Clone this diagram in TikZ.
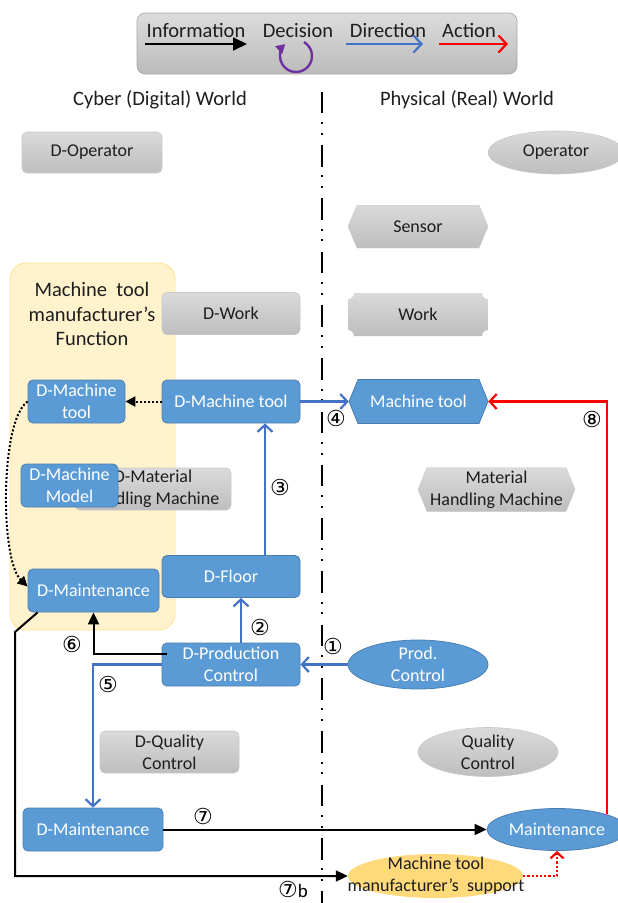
\documentclass[tikz,border=0pt]{standalone}
\usepackage{fontspec}
\setmainfont{Carlito}
\newfontfamily\circfont{DejaVu Sans}
\usetikzlibrary{arrows.meta,shapes.geometric,calc}

\definecolor{boxblue}{HTML}{5B9BD5}
\definecolor{boxline}{HTML}{4A7EB0}
\definecolor{flowblue}{HTML}{4472C4}
\definecolor{graytop}{HTML}{DADADA}
\definecolor{graybot}{HTML}{BEBEBE}
\definecolor{grayline}{HTML}{C8C8C8}
\definecolor{legtop}{HTML}{DCDCDC}
\definecolor{legbot}{HTML}{BBBBBB}
\definecolor{legline}{HTML}{A6A6A6}
\definecolor{mtffill}{HTML}{FFF2CC}
\definecolor{mtfline}{HTML}{FFE38F}
\definecolor{supfill}{HTML}{FFD97A}
\definecolor{actred}{HTML}{FF0000}
\definecolor{decpurple}{HTML}{7030A0}
\definecolor{darktext}{HTML}{1E1E1E}

\tikzset{
  boxtext/.style={font=\fontsize{18}{22}\selectfont, align=center, inner sep=0pt},
  bigtext/.style={font=\fontsize{20.5}{24.5}\selectfont, align=center, inner sep=0pt, text=darktext},
  numfont/.style={font=\circfont\fontsize{22}{22}\selectfont},
  numlabel/.style={numfont, inner sep=0pt},
  bluebox/.style={boxtext, rectangle, rounded corners=5pt, fill=boxblue, draw=boxline,
    line width=0.8pt, text=white},
  graybox/.style={boxtext, rectangle, rounded corners=5pt, top color=graytop,
    bottom color=graybot, draw=grayline, line width=0.6pt, text=darktext},
  grayoval/.style={boxtext, ellipse, top color=graytop, bottom color=graybot,
    draw=grayline, line width=0.6pt, text=darktext},
  blueoval/.style={boxtext, ellipse, fill=boxblue, draw=boxline, line width=0.8pt, text=white},
  grayhex/.style={boxtext, rectangle, text=darktext,
    path picture={\shade[top color=graytop, bottom color=graybot, draw=grayline]
      ([xshift=9pt]path picture bounding box.north west)
      -- ([xshift=-9pt]path picture bounding box.north east)
      -- (path picture bounding box.east)
      -- ([xshift=-9pt]path picture bounding box.south east)
      -- ([xshift=9pt]path picture bounding box.south west)
      -- (path picture bounding box.west) -- cycle;}},
  bluehex/.style={boxtext, rectangle, text=white,
    path picture={\filldraw[fill=boxblue, draw=boxline, line width=0.8pt]
      ([xshift=9pt]path picture bounding box.north west)
      -- ([xshift=-9pt]path picture bounding box.north east)
      -- (path picture bounding box.east)
      -- ([xshift=-9pt]path picture bounding box.south east)
      -- ([xshift=9pt]path picture bounding box.south west)
      -- (path picture bounding box.west) -- cycle;}},
  grayplaque/.style={boxtext, rectangle, text=darktext,
    path picture={\shade[top color=graytop, bottom color=graybot]
      ([xshift=6pt]path picture bounding box.north west)
      -- ([xshift=-6pt]path picture bounding box.north east)
      arc[start angle=180, end angle=270, radius=6pt]
      -- ([yshift=6pt]path picture bounding box.south east)
      arc[start angle=90, end angle=180, radius=6pt]
      -- ([xshift=6pt]path picture bounding box.south west)
      arc[start angle=0, end angle=90, radius=6pt]
      -- ([yshift=-6pt]path picture bounding box.north west)
      arc[start angle=270, end angle=360, radius=6pt] -- cycle;}},
  infoline/.style={draw=black, line width=2pt, -{Triangle[length=12pt, width=11pt]}},
  dotinfo/.style={draw=black, line width=2pt, dotted, -{Triangle[length=10pt, width=10pt]}},
  dirline/.style={draw=flowblue, line width=2.2pt, -{Straight Barb[length=7pt, width=15pt]}},
  actline/.style={draw=actred, line width=2.2pt, -{Straight Barb[length=7pt, width=15pt]}},
  dotact/.style={draw=actred, line width=2.2pt, dotted, -{Straight Barb[length=6pt, width=13pt]}},
  divider/.style={draw=black, line width=2.6pt,
    dash pattern=on 21.6pt off 8.7pt on 2pt off 8.7pt on 2pt off 10.3pt},
}

\begin{document}
\begin{tikzpicture}[x=1pt, y=1pt]
\useasboundingbox (0,0) rectangle (618,-903);

% legend
\node[rectangle, rounded corners=8pt, top color=legtop, bottom color=legbot, draw=legline,
  line width=0.6pt, minimum width=380pt, minimum height=61pt] (legend) at (327,-43.5) {};
\node[bigtext, anchor=base] (tinfo) at (196,-37) {Information};
\node[bigtext, anchor=base] (tdec) at (298,-37) {Decision};
\node[bigtext, anchor=base] (tdir) at (388,-37) {Direction};
\node[bigtext, anchor=base] (tact) at (469,-37) {Action};
\coordinate (li1) at (145,-44); \coordinate (li2) at (247,-44);
\coordinate (ld1) at (346,-44); \coordinate (ld2) at (423,-44);
\coordinate (la1) at (439,-44); \coordinate (la2) at (508,-44);
\coordinate (dc) at (296,-56);
\draw[infoline, -{Triangle[length=14pt, width=13pt]}] (li1) -- (li2);
\draw[dirline, -{Straight Barb[length=8pt, width=17pt]}] (ld1) -- (ld2);
\draw[actline, -{Straight Barb[length=8pt, width=17pt]}] (la1) -- (la2);
\draw[decpurple, line width=2.4pt, -{Triangle[length=9pt, width=10pt]}]
  ([shift={(60:16)}]dc) arc[start angle=60, end angle=-228, radius=16];

% world labels and divider
\node[bigtext] (cyber) at (160,-100) {Cyber (Digital) World};
\node[bigtext] (phys) at (467,-100) {Physical (Real) World};
\coordinate (divtop) at (322,-91.7);
\coordinate (divbot) at (322,-903);
\draw[divider] (divtop) -- (divbot);

% machine tool manufacturer's area
\node[rectangle, rounded corners=16pt, fill=mtffill, draw=mtfline, line width=0.8pt,
  minimum width=165pt, minimum height=367pt] (mtf) at (92.5,-446.5) {};
\node[bigtext] (mtflabel) at (92,-314) {Machine\ \ tool\\manufacturer’s\\Function};

% cyber side
\node[graybox, minimum width=140pt, minimum height=41pt] (dop) at (92,-152.5) {D-Operator};
\node[graybox, minimum width=138pt, minimum height=42pt] (dwork) at (231,-313.5) {D-Work};
\node[bluebox, minimum width=97pt, minimum height=43pt] (dmtl) at (76.5,-401.5) {D-Machine\\tool};
\node[bluebox, minimum width=138pt, minimum height=43pt] (dmt) at (231,-401.5) {D-Machine tool};
\node[graybox, minimum width=156pt, minimum height=42pt] (dmhm) at (153,-489) {D-Material\\Handling Machine};
\node[bluebox, minimum width=97pt, minimum height=43pt] (dmodel) at (69.5,-485.5) {D-Machine\\Model};
\node[bluebox, minimum width=138pt, minimum height=42pt] (dfloor) at (231,-576.5) {D-Floor};
\node[bluebox, minimum width=131pt, minimum height=43pt] (dmaint1) at (93.5,-590.5) {D-Maintenance};
\node[bluebox, minimum width=138pt, minimum height=43pt] (dpc) at (231,-664.5) {D-Production\\Control};
\node[graybox, minimum width=139pt, minimum height=42pt] (dqc) at (169.5,-752) {D-Quality\\Control};
\node[bluebox, minimum width=140pt, minimum height=43pt] (dmaint2) at (93,-829.5) {D-Maintenance};

% physical side
\node[grayoval, minimum width=136pt, minimum height=43pt] (op) at (556,-152.5) {Operator};
\node[grayhex, minimum width=140pt, minimum height=43pt] (sensor) at (418,-226.5) {Sensor};
\node[grayplaque, minimum width=140pt, minimum height=43pt] (work) at (418,-314.5) {Work};
\node[bluehex, minimum width=139pt, minimum height=44pt] (mt) at (418.5,-401.5) {Machine tool};
\node[grayhex, minimum width=157pt, minimum height=44pt] (mhm) at (496.5,-489.5) {Material\\Handling Machine};
\node[blueoval, minimum width=140pt, minimum height=42pt] (pc) at (418,-664.5) {Prod.\\Control};
\node[grayoval, minimum width=140pt, minimum height=42pt] (qc) at (488,-752) {Quality\\Control};
\node[blueoval, minimum width=140pt, minimum height=42pt] (mnt) at (557,-829.5) {Maintenance};
\node[ellipse, fill=supfill, minimum width=175pt, minimum height=44pt, inner sep=0pt] (mts) at (435.5,-876) {};
\node[boxtext, text=darktext] (mtstext) at (436,-876) {Machine tool\\manufacturer’s\ \ support};

% flows
\draw[dotinfo] (dmt.west) -- (dmtl.east);
\draw[dotinfo] (dmtl.west) .. controls (0,-420) and (0,-560) .. ([yshift=4pt]dmaint1.west);
\draw[dirline] (dmt.east) -- (mt.west);
\draw[dirline] ($(dfloor.north)+(34,0)$) -- ($(dmt.south)+(34,0)$);
\draw[dirline] ($(dpc.north)+(10,0)$) -- ($(dfloor.south)+(10,0)$);
\draw[dirline] (pc.west) -- (dpc.east);
\draw[dirline] (dpc.west) -| (dmaint2.north);
\draw[infoline] ([xshift=5pt, yshift=11pt]dpc.west) -| (dmaint1.south);
\draw[infoline] (dmaint2.east) -- (mnt.west);
\coordinate (k0) at ($(dmaint1.south west)+(10,0)$);
\coordinate (k1) at (15,-632);
\coordinate (k2) at (15,-876);
\draw[infoline] (k0) -- (k1) -- (k2) -- (mts.west);
\draw[actline] (mnt.17) |- (mt.east);
\draw[dotact] (mts.east) -| (mnt.south);

% step numbers
\node[numlabel] (n1) at (333,-646) {①};
\node[numlabel] (n2) at (260,-627.5) {②};
\node[numlabel] (n3) at (280,-487) {③};
\node[numlabel] (n4) at (336,-418.5) {④};
\node[numlabel] (n5) at (108,-684) {⑤};
\node[numlabel] (n6) at (72,-644) {⑥};
\node[numlabel] (n7) at (203,-816) {⑦};
\node[inner sep=0pt, font=\fontsize{19}{19}\selectfont] (n7b) at (293,-889) {{\circfont\fontsize{22}{22}\selectfont ⑦}b};
\node[numlabel] (n8) at (592,-419) {⑧};
\end{tikzpicture}
\end{document}
